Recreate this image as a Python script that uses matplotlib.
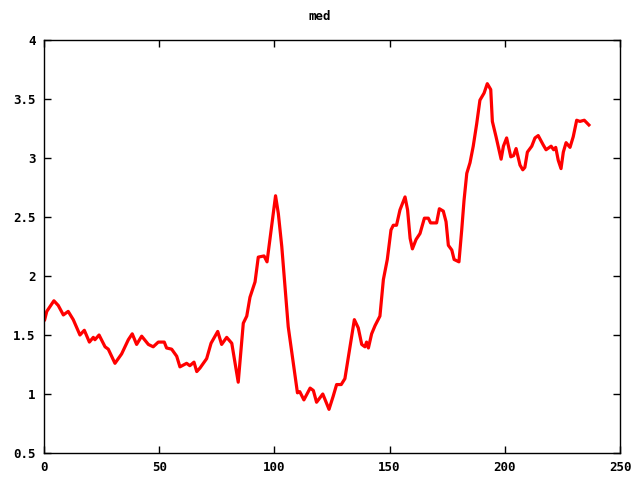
import matplotlib
matplotlib.use('Agg')
import matplotlib.pyplot as plt

# median curve
x_vals = [0.3, 1.2, 4.3, 6.2, 8.4, 10.5, 12.7, 15.6, 17.5, 19.7, 21.4, 22.1, 23.9, 26.5, 27.9, 30.8, 33.7, 36.6, 38.3, 40.2,
          42.4, 45.3, 47.4, 49.6, 52.2, 53.2, 55.4, 57.6, 59.0, 61.9, 63.3, 65.1, 66.3, 67.7, 70.6, 72.5, 75.4, 77.1, 79.3, 81.5,
          84.3, 86.5, 88.0, 89.4, 91.6, 93.0, 95.5, 96.8, 98.8, 100.5, 101.7, 103.2, 105.0, 106.0, 108.2, 110.0, 111.0, 112.8, 115.5, 116.9,
          118.3, 121.0, 123.7, 125.5, 127.0, 129.0, 130.6, 132.8, 134.7, 136.4, 137.9, 139.3, 140.0, 140.8, 142.2, 143.7, 145.8, 147.3, 149.0, 150.6,
          151.6, 153.0, 154.5, 156.7, 157.8, 158.9, 159.9, 161.5, 163.2, 165.1, 166.8, 167.8, 170.4, 171.6, 173.3, 174.5, 175.5, 177.0, 178.0, 180.1,
          181.3, 182.3, 183.5, 184.9, 186.3, 187.8, 189.2, 191.0, 192.4, 193.9, 194.6, 196.2, 198.4, 199.4, 200.8, 202.6, 203.8, 204.9, 206.6, 207.8,
          208.7, 209.8, 211.7, 213.1, 214.5, 216.7, 217.9, 220.1, 221.2, 222.1, 223.2, 224.4, 225.4, 226.6, 228.3, 229.7, 231.2, 232.6, 234.5, 236.5]
med = [1.63, 1.70, 1.79, 1.75, 1.67, 1.70, 1.63, 1.50, 1.54, 1.44, 1.48, 1.46, 1.50, 1.40, 1.38, 1.26, 1.34, 1.46, 1.51, 1.42,
       1.49, 1.42, 1.40, 1.44, 1.44, 1.39, 1.38, 1.32, 1.23, 1.26, 1.24, 1.27, 1.19, 1.22, 1.30, 1.43, 1.53, 1.42, 1.48, 1.43,
       1.10, 1.60, 1.66, 1.82, 1.95, 2.16, 2.17, 2.12, 2.42, 2.68, 2.53, 2.25, 1.82, 1.57, 1.26, 1.01, 1.02, 0.95, 1.05, 1.03,
       0.93, 1.00, 0.87, 0.98, 1.08, 1.08, 1.13, 1.40, 1.63, 1.56, 1.42, 1.40, 1.44, 1.39, 1.51, 1.58, 1.66, 1.97, 2.14, 2.39,
       2.43, 2.43, 2.56, 2.67, 2.56, 2.32, 2.23, 2.31, 2.36, 2.49, 2.49, 2.45, 2.45, 2.57, 2.55, 2.46, 2.26, 2.22, 2.14, 2.12,
       2.39, 2.64, 2.87, 2.96, 3.10, 3.29, 3.49, 3.55, 3.63, 3.58, 3.31, 3.18, 2.99, 3.10, 3.17, 3.01, 3.02, 3.08, 2.94, 2.90,
       2.92, 3.05, 3.10, 3.17, 3.19, 3.11, 3.07, 3.10, 3.07, 3.09, 2.98, 2.91, 3.05, 3.13, 3.09, 3.18, 3.32, 3.31, 3.32, 3.28]

x_ticks = [0, 50, 100, 150, 200, 250]
y_ticks = [0.5, 1, 1.5, 2, 2.5, 3, 3.5, 4]
y_labels = ['0.5', '1', '1.5', '2', '2.5', '3', '3.5', '4']

plt.rcParams['font.family'] = 'DejaVu Sans Mono'

fig = plt.figure(figsize=(6.4, 4.8), dpi=100)
ax = fig.add_axes([44 / 640, 1 - 453 / 480, 576 / 640, 413 / 480])

ax.plot(x_vals, med, color='#ff0000', linewidth=2.3)

ax.set_xlim(0, 250)
ax.set_ylim(0.5, 4)
ax.set_xticks(x_ticks)
ax.set_yticks(y_ticks)
ax.set_yticklabels(y_labels)
ax.tick_params(direction='in', top=True, right=True, length=5, width=1,
               labelsize=9, pad=6)
for lbl in ax.get_xticklabels() + ax.get_yticklabels():
    lbl.set_fontweight('bold')
for s in ax.spines.values():
    s.set_linewidth(1)

fig.text(0.5, 1 - 17 / 480, 'med', ha='center', va='center',
         fontsize=9, fontweight='bold')

fig.savefig('out.png', dpi=100)
